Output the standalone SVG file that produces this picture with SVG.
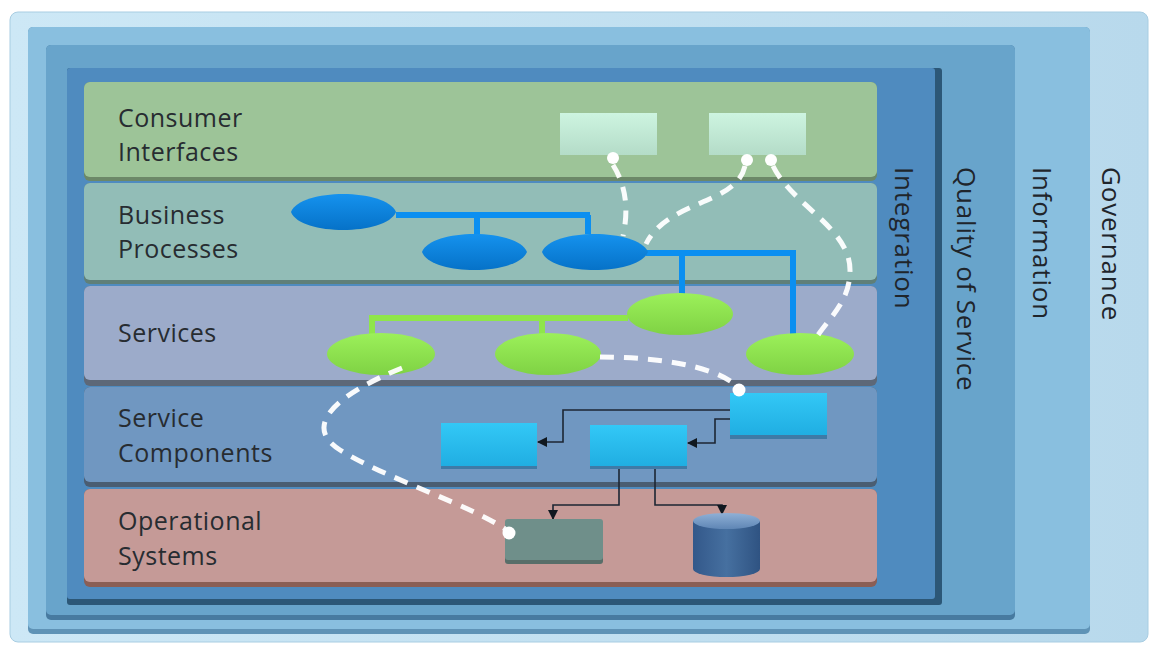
<svg xmlns="http://www.w3.org/2000/svg" width="1155" height="646" viewBox="0 0 1155 646">
  <style>
    .lbl { font-family: "Open Sans", "Liberation Sans", sans-serif; font-size: 25px; letter-spacing: 0.5px; fill: #272c31; }
    .vlbl { font-family: "Open Sans", "Liberation Sans", sans-serif; font-size: 26px; letter-spacing: 0.8px; fill: #1f252b; }
    .dash { fill: none; stroke: #ffffff; stroke-width: 5; stroke-dasharray: 14 10; stroke-linecap: butt; opacity: 0.95; }
    .dot { fill: #ffffff; }
    .blue { fill: none; stroke: #0b8ff0; stroke-width: 6; }
    .green { fill: none; stroke: #8fe64a; stroke-width: 6; }
    .arr { fill: none; stroke: #1c2633; stroke-width: 1.6; marker-end: url(#ah); }
    .bp { fill: url(#gBlue); }
    .sv { fill: url(#gGreen); }
    .sc { fill: url(#gCyan); }
    .ci { fill: url(#gMint); }
  </style>
  <defs>
    <marker id="ah" markerUnits="userSpaceOnUse" markerWidth="10" markerHeight="10" viewBox="0 0 10 10" refX="9" refY="5" orient="auto">
      <path d="M0,0 L10,5 L0,10 Z" fill="#101820"/>
    </marker>
    <linearGradient id="gBlue" x1="0" y1="0" x2="0" y2="1">
      <stop offset="0" stop-color="#1592ee"/>
      <stop offset="1" stop-color="#0672c8"/>
    </linearGradient>
    <linearGradient id="gGreen" x1="0" y1="0" x2="0" y2="1">
      <stop offset="0" stop-color="#9cf05a"/>
      <stop offset="1" stop-color="#7fd244"/>
    </linearGradient>
    <linearGradient id="gCyan" x1="0" y1="0" x2="0" y2="1">
      <stop offset="0" stop-color="#33c8f6"/>
      <stop offset="1" stop-color="#20aee2"/>
    </linearGradient>
    <linearGradient id="gMint" x1="0" y1="0" x2="0" y2="1">
      <stop offset="0" stop-color="#cdf4e0"/>
      <stop offset="1" stop-color="#b4dcc8"/>
    </linearGradient>
    <linearGradient id="gCylTop" x1="0" y1="0" x2="0" y2="1">
      <stop offset="0" stop-color="#8fb0d6"/>
      <stop offset="1" stop-color="#5f86b5"/>
    </linearGradient>
    <linearGradient id="gCyl" x1="0" y1="0" x2="1" y2="0">
      <stop offset="0" stop-color="#33588a"/>
      <stop offset="0.5" stop-color="#4670a0"/>
      <stop offset="1" stop-color="#2f5382"/>
    </linearGradient>
    <linearGradient id="gGov" x1="0" y1="0" x2="1" y2="0">
      <stop offset="0" stop-color="#cde8f6"/>
      <stop offset="1" stop-color="#b8d9ec"/>
    </linearGradient>
  </defs>

  <rect width="1155" height="646" fill="#ffffff"/>

  <!-- Frames -->
  <g id="frame-governance">
    <rect x="10" y="12" width="1138" height="630" rx="8" fill="url(#gGov)" stroke="#a8cde2" stroke-width="1"/>
    <text class="vlbl" transform="translate(1102,167) rotate(90)">Governance</text>
  </g>
  <g id="frame-information">
    <rect x="28" y="27" width="1062" height="607" rx="5" fill="#5f93b6"/>
    <rect x="28" y="27" width="1062" height="602" rx="5" fill="#89bfdf"/>
    <text class="vlbl" transform="translate(1033,167) rotate(90)">Information</text>
  </g>
  <g id="frame-qos">
    <rect x="46" y="45" width="969" height="575" rx="5" fill="#477aa0"/>
    <rect x="46" y="45" width="969" height="570" rx="5" fill="#68a4cb"/>
    <text class="vlbl" transform="translate(957,167) rotate(90)">Quality of Service</text>
  </g>
  <g id="frame-integration">
    <rect x="67" y="68" width="875" height="537" rx="3" fill="#2c5777"/>
    <rect x="67" y="68" width="868" height="531" rx="3" fill="#4f8bbf"/>
    <text class="vlbl" transform="translate(895,167) rotate(90)">Integration</text>
  </g>

  <!-- Layers -->
  <g id="layer-consumer-interfaces">
    <rect x="84" y="82" width="793" height="99" rx="6" fill="#6c8868"/>
    <rect x="84" y="82" width="793" height="95" rx="6" fill="#9dc498"/>
    <text class="lbl" x="118" y="127">Consumer</text>
    <text class="lbl" x="118" y="161">Interfaces</text>
  </g>
  <g id="layer-business-processes">
    <rect x="84" y="183" width="793" height="101" rx="6" fill="#5f7f78"/>
    <rect x="84" y="183" width="793" height="97" rx="6" fill="#92bdb7"/>
    <text class="lbl" x="118" y="224">Business</text>
    <text class="lbl" x="118" y="258">Processes</text>
  </g>
  <g id="layer-services">
    <rect x="84" y="286" width="793" height="100" rx="6" fill="#5d6878"/>
    <rect x="84" y="286" width="793" height="94" rx="6" fill="#9cabca"/>
    <text class="lbl" x="118" y="342">Services</text>
  </g>
  <g id="layer-service-components">
    <rect x="84" y="387" width="793" height="100" rx="6" fill="#4a5d72"/>
    <rect x="84" y="387" width="793" height="95" rx="6" fill="#7097c1"/>
    <text class="lbl" x="118" y="427">Service</text>
    <text class="lbl" x="118" y="462">Components</text>
  </g>
  <g id="layer-operational-systems">
    <rect x="84" y="489" width="793" height="98" rx="6" fill="#8a5e55"/>
    <rect x="84" y="489" width="793" height="93" rx="6" fill="#c59a97"/>
    <text class="lbl" x="118" y="530">Operational</text>
    <text class="lbl" x="118" y="565">Systems</text>
  </g>

  <!-- Solid connectors (behind nodes) -->
  <g id="connectors">
    <path class="blue" d="M396,215 H590 M477,215 V234 M588,215 V234"/>
    <path class="blue" d="M646,253 H793 V334 M682,253 V295"/>
    <path class="green" d="M628,318 H372 V335 M542,318 V335"/>
    <path class="arr" d="M730,410 H563 V442 H538"/>
    <path class="arr" d="M730,419 H715 V443 H688"/>
    <path class="arr" d="M619,468 V505 H553 V519"/>
    <path class="arr" d="M655,468 V505 H722 V514"/>
  </g>

  <!-- Consumer interface nodes -->
  <g id="ci-box-1"><rect class="ci" x="560" y="113" width="97" height="42"/></g>
  <g id="ci-box-2"><rect class="ci" x="709" y="113" width="97" height="42"/></g>

  <!-- Business process nodes -->
  <g id="bp-1"><path class="bp" d="M291,212 C300,188 386,188 396,212 C386,236 300,236 291,212 Z"/></g>
  <g id="bp-2"><path class="bp" d="M422,252 C431,228 517,228 527,252 C517,276 431,276 422,252 Z"/></g>
  <g id="bp-3"><path class="bp" d="M542,252 C551,228 638,228 648,252 C638,276 551,276 542,252 Z"/></g>

  <!-- Service nodes -->
  <g id="svc-1"><ellipse class="sv" cx="381" cy="354" rx="54" ry="21"/></g>
  <g id="svc-2"><ellipse class="sv" cx="548" cy="354" rx="53" ry="21"/></g>
  <g id="svc-3"><ellipse class="sv" cx="680" cy="314" rx="53" ry="21"/></g>
  <g id="svc-4"><ellipse class="sv" cx="800" cy="354" rx="54" ry="21"/></g>

  <!-- Service component nodes -->
  <g id="sc-1"><rect x="441" y="425" width="96" height="44" fill="#3f7aa6"/><rect class="sc" x="441" y="423" width="96" height="43"/></g>
  <g id="sc-2"><rect x="590" y="427" width="97" height="42" fill="#3f7aa6"/><rect class="sc" x="590" y="425" width="97" height="41"/></g>
  <g id="sc-3"><rect x="730" y="395" width="97" height="44" fill="#3f7aa6"/><rect class="sc" x="730" y="393" width="97" height="42"/></g>

  <!-- Operational nodes -->
  <g id="ops-system"><rect x="505" y="521" width="98" height="43" rx="3" fill="#586e69"/><rect x="505" y="519" width="98" height="41" rx="3" fill="#6f8f8a"/></g>
  <g id="ops-database">
    <path d="M693,521 V569 A33.5,8 0 0 0 760,569 V521 Z" fill="url(#gCyl)"/>
    <ellipse cx="726.5" cy="521" rx="33.5" ry="8" fill="url(#gCylTop)"/>
  </g>

  <!-- Dashed connectors -->
  <g id="dashed-connectors">
    <path class="dash" d="M613,165 Q632,195 623,236"/>
    <path class="dash" d="M745,166 C736,205 668,200 646,244"/>
    <path class="dash" d="M773,166 C792,205 850,228 850,270 C850,300 832,315 818,335"/>
    <path class="dash" d="M600,357 C650,357 712,364 737,386"/>
    <path class="dash" d="M402,368 C340,393 300,425 340,450 C385,478 470,505 505,529"/>
    <circle class="dot" cx="613" cy="158" r="6"/>
    <circle class="dot" cx="747" cy="160" r="6"/>
    <circle class="dot" cx="771" cy="160" r="6"/>
    <circle class="dot" cx="739" cy="390" r="6.5"/>
    <circle class="dot" cx="509" cy="533" r="6.5"/>
  </g>
</svg>
